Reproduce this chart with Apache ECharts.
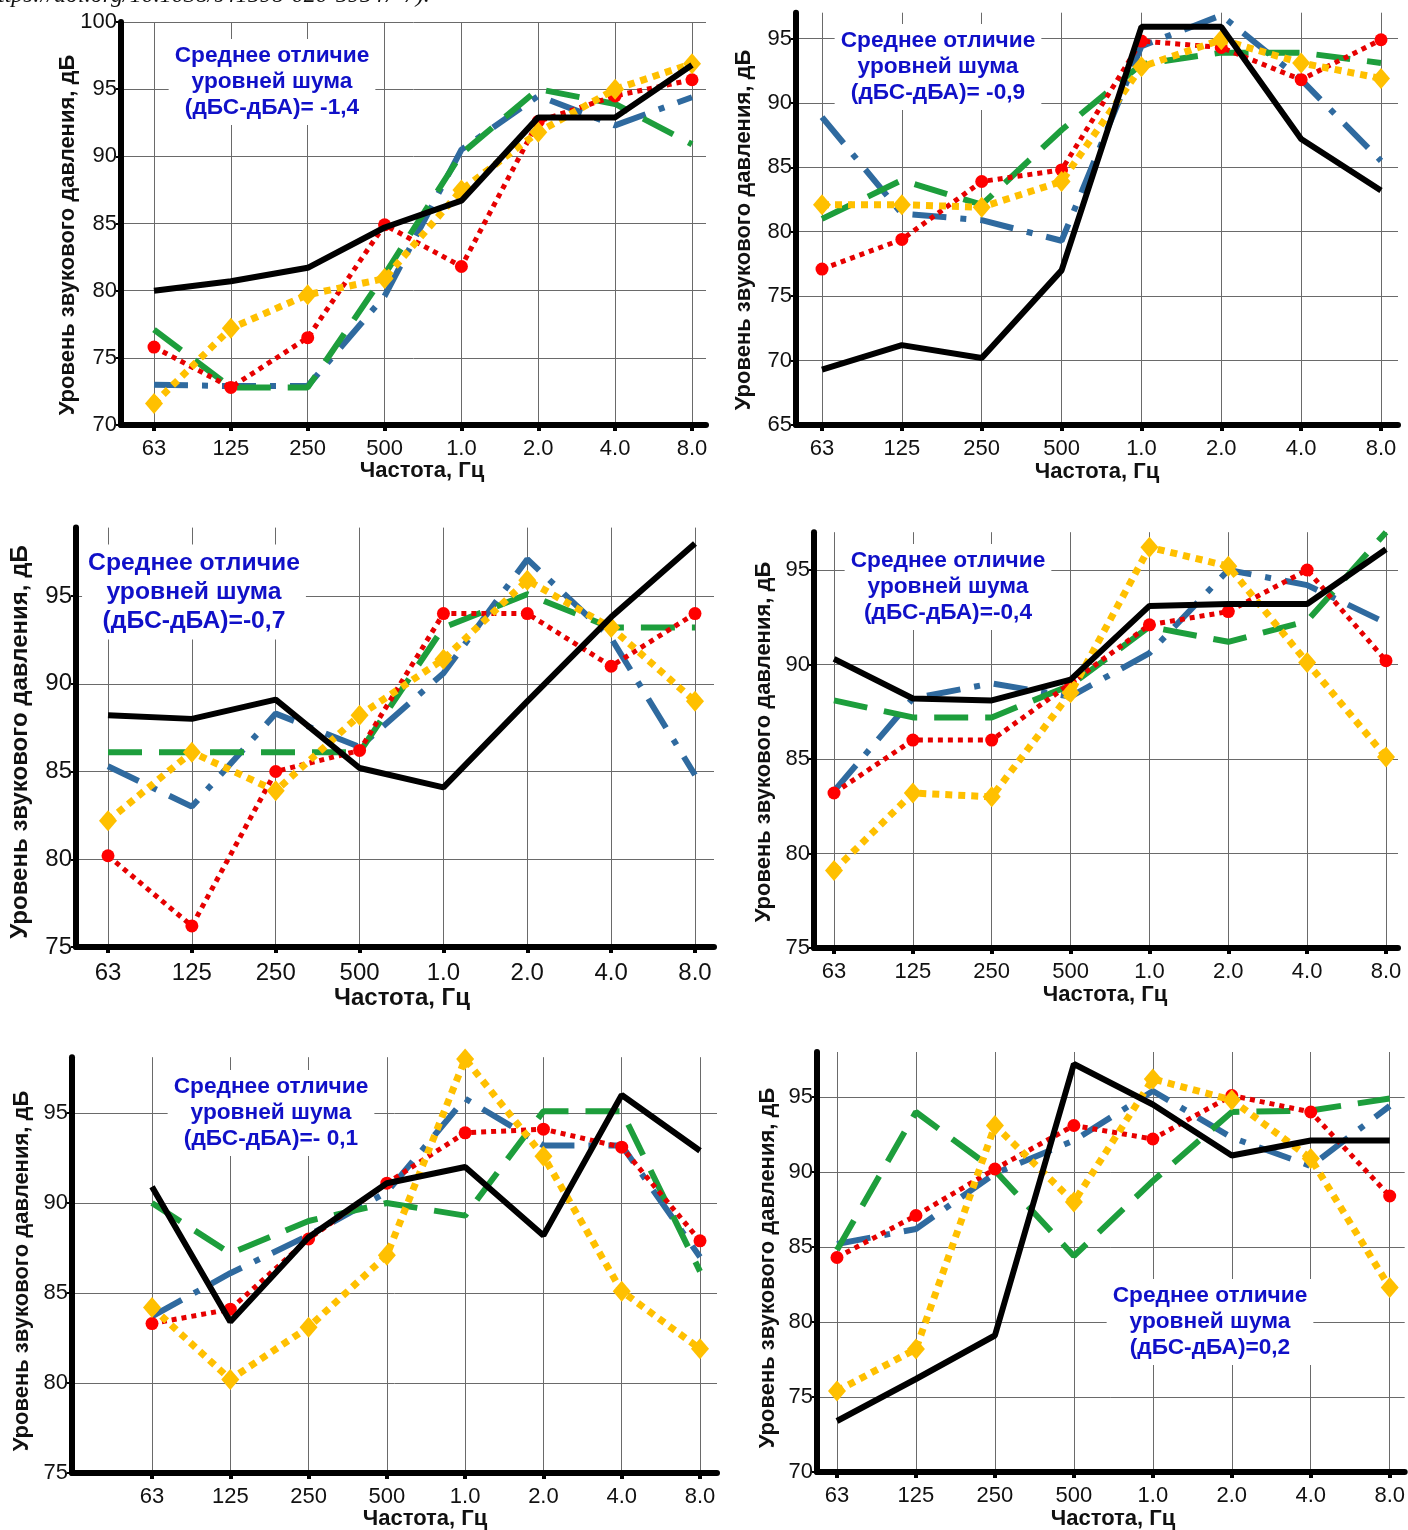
<!DOCTYPE html>
<html>
<head>
<meta charset="utf-8">
<script src="https://cdn.jsdelivr.net/npm/echarts@6/dist/echarts.min.js"></script>
<style>
  html, body { margin: 0; padding: 0; background: #ffffff; }
  #chart { width: 1408px; height: 1530px; }
</style>
</head>
<body>
<div id="chart"></div>
<script>
// Octave-band centre frequencies (Hz / kHz)
const freqLabels = ['63', '125', '250', '500', '1.0', '2.0', '4.0', '8.0'];

// Sound pressure levels, dB — panel 1
const p1Black  = [80.0, 80.7, 81.7, 84.7, 86.7, 92.9, 92.9, 96.8];
const p1Red    = [75.8, 72.8, 76.5, 84.9, 81.8, 92.6, 94.5, 95.7];
const p1Yellow = [71.6, 77.2, 79.7, 80.9, 87.5, 91.8, 95.0, 96.9];
const p1Green  = [77.1, 72.8, 72.8, 81.2, 90.2, 95.0, 93.9, 90.9];
const p1Blue   = [73.0, 72.9, 72.9, 79.6, 90.5, 94.5, 92.3, 94.4];

// panel 2
const p2Black  = [69.3, 71.2, 70.2, 77.0, 95.9, 95.9, 87.2, 83.2];
const p2Red    = [77.1, 79.4, 83.9, 84.8, 94.8, 94.3, 91.8, 94.9];
const p2Yellow = [82.1, 82.1, 81.9, 83.9, 92.8, 94.9, 93.1, 91.9];
const p2Green  = [81.0, 84.0, 82.1, 87.9, 93.0, 93.9, 93.9, 93.1];
const p2Blue   = [88.9, 81.4, 80.9, 79.3, 94.4, 96.8, 91.8, 85.5];

// panel 3
const p3Black  = [88.2, 88.0, 89.1, 85.2, 84.1, 89.0, 93.8, 98.0];
const p3Red    = [80.2, 76.2, 85.0, 86.2, 94.0, 94.0, 91.0, 94.0];
const p3Yellow = [82.2, 86.1, 83.9, 88.2, 91.4, 95.9, 93.2, 89.0];
const p3Green  = [86.1, 86.1, 86.1, 86.1, 93.2, 95.1, 93.2, 93.2];
const p3Blue   = [85.3, 83.0, 88.3, 86.4, 90.6, 97.1, 92.6, 84.8];

// panel 4
const p4Black  = [90.3, 88.2, 88.1, 89.2, 93.1, 93.2, 93.2, 96.1];
const p4Red    = [83.2, 86.0, 86.0, 89.0, 92.1, 92.8, 95.0, 90.2];
const p4Yellow = [79.1, 83.2, 83.0, 88.5, 96.2, 95.2, 90.1, 85.1];
const p4Green  = [88.1, 87.2, 87.2, 88.9, 92.0, 91.2, 92.3, 97.0];
const p4Blue   = [83.3, 88.2, 89.0, 88.3, 90.6, 95.0, 94.2, 92.2];

// panel 5
const p5Black  = [90.9, 83.4, 88.1, 91.1, 92.0, 88.2, 96.0, 92.9];
const p5Red    = [83.3, 84.1, 88.0, 91.1, 93.9, 94.1, 93.1, 87.9];
const p5Yellow = [84.2, 80.2, 83.1, 87.1, 98.0, 92.6, 85.1, 81.9];
const p5Green  = [90.0, 87.2, 89.0, 90.0, 89.3, 95.1, 95.1, 86.2];
const p5Blue   = [83.7, 86.1, 88.2, 90.6, 95.8, 93.2, 93.2, 87.0];

// panel 6
const p6Black  = [73.4, 76.2, 79.1, 97.2, 94.5, 91.1, 92.1, 92.1];
const p6Red    = [84.3, 87.1, 90.2, 93.1, 92.2, 95.1, 94.0, 88.4];
const p6Yellow = [75.4, 78.2, 93.1, 88.0, 96.2, 94.8, 90.9, 82.3];
const p6Green  = [84.8, 94.0, 90.1, 84.4, 89.4, 94.0, 94.1, 94.9];
const p6Blue   = [85.2, 86.2, 89.9, 92.1, 95.4, 92.3, 90.4, 94.4];

// y-axis tick values
const yTicks70to100 = [70, 75, 80, 85, 90, 95, 100];
const yTicks65to95  = [65, 70, 75, 80, 85, 90, 95];
const yTicks75to95  = [75, 80, 85, 90, 95];
const yTicks70to95  = [70, 75, 80, 85, 90, 95];

// Mean difference notes
const meanDiffs = ['-1,4', '-0,9', '-0,7', '-0,4', '- 0,1', '0,2'];
const noteHead = ['Среднее отличие', 'уровней шума'];
const yTitle = 'Уровень звукового давления, дБ';
const xTitle = 'Частота, Гц';

// ---- layout of the six panels (pixels) ----
const panels = [
  { data: [p1Blue, p1Green, p1Red, p1Yellow, p1Black], yMin: 70, yMax: 100, yTicks: yTicks70to100,
    axisX: 121, x0: 154, x7: 692, right: 706, top: 22, bottom: 425, font: 22,
    note: { x: 272, y: 82, eq: '(дБС-дБА)= ' + meanDiffs[0] }, yT: { x: 68, y: 235 }, xT: { x: 422, y: 471 } },
  { data: [p2Blue, p2Green, p2Red, p2Yellow, p2Black], yMin: 65, yMax: 97, yTicks: yTicks65to95,
    axisX: 796, x0: 822, x7: 1381, right: 1398, top: 12.7, bottom: 425, font: 22,
    note: { x: 938, y: 67, eq: '(дБС-дБА)= ' + meanDiffs[1] }, yT: { x: 744, y: 230 }, xT: { x: 1097, y: 472 } },
  { data: [p3Blue, p3Green, p3Red, p3Yellow, p3Black], yMin: 75, yMax: 98.9, yTicks: yTicks75to95,
    axisX: 76, x0: 108, x7: 695, right: 714, top: 527.6, bottom: 947, font: 24,
    note: { x: 194, y: 592, eq: '(дБС-дБА)=' + meanDiffs[2] }, yT: { x: 20, y: 742 }, xT: { x: 402, y: 998 } },
  { data: [p4Blue, p4Green, p4Red, p4Yellow, p4Black], yMin: 75, yMax: 97, yTicks: yTicks75to95,
    axisX: 814, x0: 834, x7: 1386, right: 1398, top: 532.2, bottom: 948, font: 22,
    note: { x: 948, y: 587, eq: '(дБС-дБА)=' + meanDiffs[3] }, yT: { x: 764, y: 742 }, xT: { x: 1105, y: 995 } },
  { data: [p5Blue, p5Green, p5Red, p5Yellow, p5Black], yMin: 75, yMax: 98.1, yTicks: yTicks75to95,
    axisX: 72, x0: 152, x7: 700, right: 717, top: 1057.2, bottom: 1473, font: 22,
    note: { x: 271, y: 1113, eq: '(дБС-дБА)=' + meanDiffs[4] }, yT: { x: 22, y: 1271 }, xT: { x: 425, y: 1519 } },
  { data: [p6Blue, p6Green, p6Red, p6Yellow, p6Black], yMin: 70, yMax: 98, yTicks: yTicks70to95,
    axisX: 817, x0: 837, x7: 1390, right: 1405, top: 1052, bottom: 1472, font: 22,
    note: { x: 1210, y: 1322, eq: '(дБС-дБА)=' + meanDiffs[5] }, yT: { x: 768, y: 1268 }, xT: { x: 1113, y: 1519 } }
];

// line styles, in drawing order (last on top)
const seriesLook = [
  { name: 'Серия 5', color: '#2f6a9f', width: 6, dash: [34, 14, 6, 14], symbol: 'none' },
  { name: 'Серия 4', color: '#1d9e3c', width: 6, dash: [34, 17], symbol: 'none' },
  { name: 'Серия 2', color: '#e60000', width: 5, dash: [5, 5], symbol: 'circle', size: 13, mark: '#ff0000' },
  { name: 'Серия 3', color: '#ffc000', width: 7, dash: [7, 6], symbol: 'diamond', size: [18, 21], mark: '#ffc000' },
  { name: 'Серия 1', color: '#000000', width: 6, dash: 'solid', symbol: 'none' }
];

const FONT = '"Liberation Sans", Arial, Helvetica, sans-serif';
const tickIdx = [0, 1, 2, 3, 4, 5, 6, 7];
const gridColor = '#6a6a6a';

const grids = [], xAxes = [], yAxes = [], series = [], graphics = [];

panels.forEach((p, k) => {
  const step = (p.x7 - p.x0) / 7;
  grids.push({ left: p.axisX, top: p.top, width: p.right - p.axisX, height: p.bottom - p.top });

  xAxes.push({
    type: 'value', gridIndex: k,
    min: -(p.x0 - p.axisX) / step, max: 7 + (p.right - p.x7) / step,
    axisLine: { show: true, onZero: false, lineStyle: { color: '#000', width: 6 } },
    axisTick: { show: true, customValues: tickIdx, length: 6, lineStyle: { color: '#000', width: 4 } },
    axisLabel: { customValues: tickIdx, formatter: v => freqLabels[Math.round(v)],
      fontSize: p.font, fontFamily: FONT, color: '#111', margin: p.font > 22 ? 14 : 13 },
    splitLine: { show: true, lineStyle: { color: gridColor, width: 1 } }
  });

  yAxes.push({
    type: 'value', gridIndex: k, min: p.yMin, max: p.yMax,
    axisLine: { show: true, onZero: false, lineStyle: { color: '#000', width: 6 } },
    axisTick: { show: true, customValues: p.yTicks, length: 5, lineStyle: { color: '#000', width: 2 } },
    axisLabel: { customValues: p.yTicks, fontSize: p.font, fontFamily: FONT, color: '#111', margin: 4 },
    splitLine: { show: true, lineStyle: { color: gridColor, width: 1 } }
  });

  p.data.forEach((vals, s) => {
    const look = seriesLook[s];
    series.push({
      type: 'line', name: look.name, xAxisIndex: k, yAxisIndex: k,
      data: vals.map((v, i) => [i, v]),
      symbol: look.symbol, symbolSize: look.size || 0, showSymbol: look.symbol !== 'none',
      itemStyle: { color: look.mark || look.color },
      lineStyle: { color: look.color, width: look.width, type: look.dash, cap: 'butt' },
      clip: false, silent: true, z: 2 + s,
      emphasis: { disabled: true }
    });
  });

  // mean-difference note with white backing
  const noteFont = Math.round(p.font * 1.03 * 10) / 10;
  graphics.push({
    type: 'text', x: p.note.x, y: p.note.y, z: 100,
    style: {
      text: noteHead.concat([p.note.eq]).join('\n'),
      font: 'bold ' + noteFont + 'px ' + FONT,
      fill: '#1010c8', align: 'center', verticalAlign: 'middle',
      textAlign: 'center', textVerticalAlign: 'middle',
      lineHeight: Math.round(p.font * 1.2),
      backgroundColor: '#ffffff', padding: [4, 6]
    }
  });

  // axis titles
  graphics.push({
    type: 'text', x: p.yT.x, y: p.yT.y, rotation: Math.PI / 2, z: 100,
    style: { text: yTitle, font: 'bold ' + p.font + 'px ' + FONT, fill: '#111',
      align: 'center', verticalAlign: 'middle', textAlign: 'center', textVerticalAlign: 'middle' }
  });
  graphics.push({
    type: 'text', x: p.xT.x, y: p.xT.y, z: 100,
    style: { text: xTitle, font: 'bold ' + p.font + 'px ' + FONT, fill: '#111',
      align: 'center', verticalAlign: 'middle', textAlign: 'center', textVerticalAlign: 'middle' }
  });
});

// source line running off the top edge
graphics.push({
  type: 'text', x: -14, y: 8, z: 100,
  style: { text: 'https://doi.org/10.1038/s41598-020-59547-7).', font: 'italic 24px "Liberation Serif", "DejaVu Serif", serif',
    fill: '#111', align: 'left', verticalAlign: 'bottom', textAlign: 'left', textVerticalAlign: 'bottom' }
});

const chart = echarts.init(document.getElementById('chart'), null, { renderer: 'canvas', width: 1408, height: 1530 });
chart.setOption({
  backgroundColor: '#ffffff',
  animation: false,
  grid: grids,
  xAxis: xAxes,
  yAxis: yAxes,
  series: series,
  graphic: { elements: graphics }
});
</script>
</body>
</html>
